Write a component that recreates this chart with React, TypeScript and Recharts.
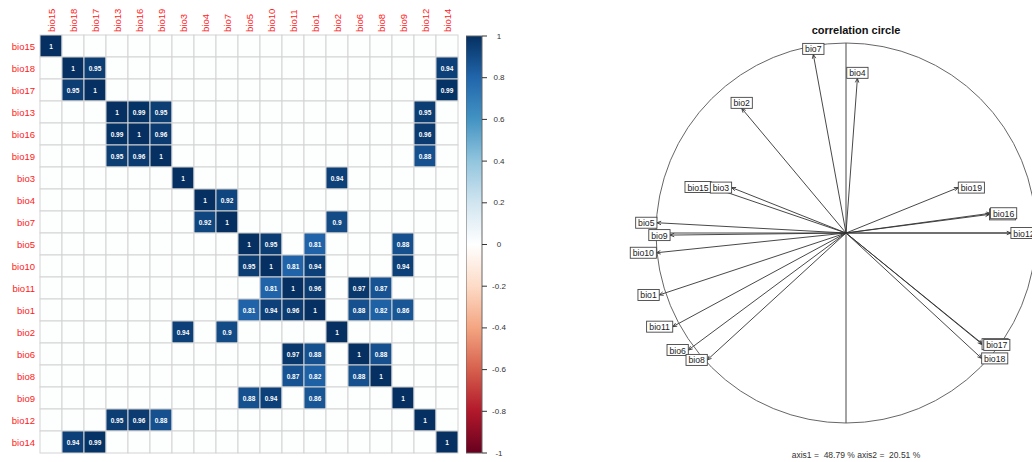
import React from 'react';
import { ScatterChart, Scatter, BarChart, Bar, XAxis, YAxis, ReferenceLine, ReferenceDot } from 'recharts';

// ---------- data ----------
const VARS = ['bio15', 'bio18', 'bio17', 'bio13', 'bio16', 'bio19', 'bio3', 'bio4', 'bio7', 'bio5', 'bio10', 'bio11', 'bio1', 'bio2', 'bio6', 'bio8', 'bio9', 'bio12', 'bio14'];

// strong correlations shown in the matrix (symmetric pairs)
const PAIR_A = ['bio18', 'bio18', 'bio17', 'bio13', 'bio13', 'bio13', 'bio16', 'bio16', 'bio19', 'bio3', 'bio4', 'bio7', 'bio5', 'bio5', 'bio5', 'bio10', 'bio10', 'bio10', 'bio11', 'bio11', 'bio11', 'bio1', 'bio1', 'bio1', 'bio6'];
const PAIR_B = ['bio17', 'bio14', 'bio14', 'bio16', 'bio19', 'bio12', 'bio19', 'bio12', 'bio12', 'bio2', 'bio7', 'bio2', 'bio10', 'bio1', 'bio9', 'bio11', 'bio1', 'bio9', 'bio1', 'bio6', 'bio8', 'bio6', 'bio8', 'bio9', 'bio8'];
const PAIR_R = [0.95, 0.94, 0.99, 0.99, 0.95, 0.95, 0.96, 0.96, 0.88, 0.94, 0.92, 0.9, 0.95, 0.81, 0.88, 0.81, 0.94, 0.94, 0.96, 0.97, 0.87, 0.88, 0.82, 0.86, 0.88];

const COLORBAR_TICKS = [-1, -0.8, -0.6, -0.4, -0.2, 0, 0.2, 0.4, 0.6, 0.8, 1];
const COLORBAR_RANGE = [{ name: 'r', range: [-1, 1] }];
const PALETTE = ['#67001F', '#B2182B', '#D6604D', '#F4A582', '#FDDBC7', '#FFFFFF', '#D1E5F0', '#92C5DE', '#4393C3', '#2166AC', '#053061'];

// correlation circle (drawing order)
const CIRCLE_VARS = ['bio15', 'bio3', 'bio7', 'bio4', 'bio2', 'bio19', 'bio13', 'bio16', 'bio12', 'bio5', 'bio9', 'bio10', 'bio1', 'bio11', 'bio6', 'bio8', 'bio14', 'bio17', 'bio18'];
const AXIS1 = [-0.71, -0.602, -0.172, 0.06, -0.549, 0.591, 0.755, 0.761, 0.868, -0.995, -0.926, -0.998, -0.983, -0.912, -0.83, -0.73, 0.716, 0.725, 0.714];
const AXIS2 = [0.242, 0.239, 0.94, 0.814, 0.656, 0.239, 0.098, 0.104, 0.0, 0.054, -0.011, -0.104, -0.326, -0.493, -0.616, -0.668, -0.585, -0.589, -0.66];

const TITLE = 'correlation circle';
const FOOTER = 'axis1 =  48.79 % axis2 =  20.51 %';

// ---------- helpers ----------
const FONT = '"Liberation Sans", Arial, Helvetica, sans-serif';

function hexToRgb(h: string) {
  return [parseInt(h.slice(1, 3), 16), parseInt(h.slice(3, 5), 16), parseInt(h.slice(5, 7), 16)];
}
function corColor(v: number) {
  const t = ((v + 1) / 2) * (PALETTE.length - 1);
  const i = Math.min(PALETTE.length - 2, Math.floor(t));
  const f = t - i;
  const a = hexToRgb(PALETTE[i]);
  const b = hexToRgb(PALETTE[i + 1]);
  const c = a.map((x, k) => Math.round(x + (b[k] - x) * f));
  return `rgb(${c[0]},${c[1]},${c[2]})`;
}

const N = VARS.length;
const matrix: (number | null)[][] = VARS.map((_, i) => VARS.map((__, j) => (i === j ? 1 : null)));
PAIR_A.forEach((a, k) => {
  const i = VARS.indexOf(a);
  const j = VARS.indexOf(PAIR_B[k]);
  matrix[i][j] = PAIR_R[k];
  matrix[j][i] = PAIR_R[k];
});
const cells: { c: number; r: number; v: number | null }[] = [];
for (let i = 0; i < N; i++) for (let j = 0; j < N; j++) cells.push({ c: j + 0.5, r: i + 0.5, v: matrix[i][j] });
const centerTicks = VARS.map((_, i) => i + 0.5);

const circleData = CIRCLE_VARS.map((name, i) => ({ name, x: AXIS1[i], y: AXIS2[i] }));

// ---------- heatmap ----------
const HM_W = 460;
const HM_H = 462;
const HM_MARGIN = { top: 0, right: 2, bottom: 9, left: 0 };
const HM_XAXIS_H = 35;
const HM_YAXIS_W = 40;
const CELL = (HM_W - HM_MARGIN.left - HM_MARGIN.right - HM_YAXIS_W) / N;

const CellShape = (p: any) => {
  const { cx, cy, payload } = p;
  const v = payload.v;
  const fill = v == null ? '#FDFEFE' : corColor(v);
  return (
    <g>
      <rect x={cx - CELL / 2} y={cy - CELL / 2} width={CELL} height={CELL} fill={fill} stroke="#d4d4d4" strokeWidth={1} />
      {v != null && (
        <text x={cx} y={cy} textAnchor="middle" dominantBaseline="central" fill="#fff" fontSize={6.5} fontWeight="bold" fontFamily={FONT}>
          {String(v)}
        </text>
      )}
    </g>
  );
};

const TopTick = (p: any) => {
  const { x, y, payload } = p;
  const label = VARS[Math.floor(payload.value)];
  return (
    <text x={x} y={y} transform={`rotate(-90, ${x}, ${y})`} textAnchor="start" dominantBaseline="central" fill="#ff2020" fontSize={9.5} fontFamily={FONT}>
      {label}
    </text>
  );
};
const LeftTick = (p: any) => {
  const { x, y, payload } = p;
  const label = VARS[Math.floor(payload.value)];
  return (
    <text x={x} y={y} textAnchor="end" dominantBaseline="central" fill="#ff2020" fontSize={9.5} fontFamily={FONT}>
      {label}
    </text>
  );
};

const Heatmap = () => (
  <ScatterChart width={HM_W} height={HM_H} margin={HM_MARGIN}>
    <XAxis type="number" dataKey="c" orientation="top" height={HM_XAXIS_H} domain={[0, N]} ticks={centerTicks} interval={0} axisLine={false} tickLine={false} tickSize={0} tickMargin={3} tick={<TopTick />} />
    <YAxis type="number" dataKey="r" width={HM_YAXIS_W} domain={[0, N]} reversed ticks={centerTicks} interval={0} axisLine={false} tickLine={false} tickSize={0} tickMargin={5} tick={<LeftTick />} />
    <Scatter data={cells} shape={<CellShape />} isAnimationActive={false} />
  </ScatterChart>
);

// ---------- colour bar ----------
const CB_W = 56;
const CB_MARGIN = { top: 36, right: 0, bottom: 9, left: 0 };
const CbTick = (p: any) => {
  const { x, y, payload } = p;
  return (
    <text x={x + 10} y={y} textAnchor="middle" dominantBaseline="central" fill="#333" fontSize={8} fontFamily={FONT}>
      {String(Math.round(payload.value * 10) / 10)}
    </text>
  );
};
const ColorBar = () => (
  <BarChart width={CB_W} height={HM_H} margin={CB_MARGIN} data={COLORBAR_RANGE} barCategoryGap={0} barGap={0}>
    <defs>
      <linearGradient id="cbar" x1="0" y1="1" x2="0" y2="0">
        {PALETTE.map((c, i) => (
          <stop key={i} offset={`${(i / (PALETTE.length - 1)) * 100}%`} stopColor={c} />
        ))}
      </linearGradient>
    </defs>
    <XAxis dataKey="name" hide />
    <YAxis type="number" orientation="right" width={40} domain={[-1, 1]} ticks={COLORBAR_TICKS} interval={0} axisLine={false} tickSize={5} tickLine={{ stroke: '#333' }} tick={<CbTick />} />
    <Bar dataKey="range" fill="url(#cbar)" stroke="#666" strokeWidth={1} isAnimationActive={false} />
  </BarChart>
);

// ---------- correlation circle ----------
const CC_SIZE = 460;
const CC_MARGIN = { top: 40, right: 40, bottom: 40, left: 40 };
const CC_R = (CC_SIZE - CC_MARGIN.left - CC_MARGIN.right) / 2;
const LAB_FS = 8.7;

function textW(s: string) {
  let w = 0;
  for (const ch of s) w += ch === 'i' ? 0.222 : ch === ' ' ? 0.278 : 0.556;
  return w * LAB_FS;
}

const Arrow = (p: any) => {
  const { x1, y1, x2, y2 } = p;
  const ang = Math.atan2(y2 - y1, x2 - x1);
  const L = 4.5;
  const a = 0.4;
  const h1 = `${x2 - L * Math.cos(ang - a)},${y2 - L * Math.sin(ang - a)}`;
  const h2 = `${x2 - L * Math.cos(ang + a)},${y2 - L * Math.sin(ang + a)}`;
  return (
    <g>
      <line x1={x1} y1={y1} x2={x2} y2={y2} stroke="#333" strokeWidth={0.9} />
      <polyline points={`${h1} ${x2},${y2} ${h2}`} fill="none" stroke="#333" strokeWidth={0.9} />
    </g>
  );
};

const LabelBox = (p: any) => {
  const { cx, cy, payload } = p;
  const { x, y, name } = payload;
  const w = textW(` ${name} `);
  const h = 11;
  let bx = cx;
  let by = cy;
  if (x > y && x > -y) bx = cx + w / 2;
  else if (x > y && x <= -y) by = cy + h / 2;
  else if (x <= y && x <= -y) bx = cx - w / 2;
  else by = cy - h / 2;
  return (
    <g>
      <rect x={bx - w / 2} y={by - h / 2} width={w} height={h} fill="#fff" stroke="#444" strokeWidth={0.9} />
      <text x={bx} y={by + 0.5} textAnchor="middle" dominantBaseline="central" fill="#222" fontSize={LAB_FS} fontFamily={FONT}>
        {name}
      </text>
    </g>
  );
};

const CorCircle = () => (
  <ScatterChart width={CC_SIZE} height={CC_SIZE} margin={CC_MARGIN} style={{ overflow: 'visible' }}>
    <XAxis type="number" dataKey="x" domain={[-1, 1]} hide />
    <YAxis type="number" dataKey="y" domain={[-1, 1]} hide />
    <ReferenceDot x={0} y={0} r={CC_R} fill="none" stroke="#555" strokeWidth={0.9} ifOverflow="visible" />
    <ReferenceLine y={0} stroke="#333" strokeWidth={0.9} />
    <ReferenceLine x={0} stroke="#333" strokeWidth={0.9} />
    {circleData.map((d) => (
      <ReferenceLine key={d.name} segment={[{ x: 0, y: 0 }, { x: d.x, y: d.y }]} shape={<Arrow />} ifOverflow="visible" />
    ))}
    <Scatter data={circleData} shape={<LabelBox />} isAnimationActive={false} />
  </ScatterChart>
);

export default function App() {
  return (
    <div style={{ position: 'fixed', left: 0, top: 0, width: 1032, height: 462, overflow: 'hidden', background: '#fff', fontFamily: FONT }}>
      <div style={{ position: 'absolute', left: 0, top: 0 }}>
        <Heatmap />
      </div>
      <div style={{ position: 'absolute', left: 466, top: 0 }}>
        <ColorBar />
      </div>
      <div style={{ position: 'absolute', left: 616, top: 3 }}>
        <CorCircle />
      </div>
      <div style={{ position: 'absolute', left: 756, width: 200, top: 22, textAlign: 'center', fontSize: 11, fontWeight: 'bold', color: '#111', lineHeight: '16px' }}>
        {TITLE}
      </div>
      <div style={{ position: 'absolute', left: 756, width: 200, top: 449, textAlign: 'center', fontSize: 8.5, color: '#333', whiteSpace: 'pre', lineHeight: '12px' }}>
        {FOOTER}
      </div>
    </div>
  );
}
